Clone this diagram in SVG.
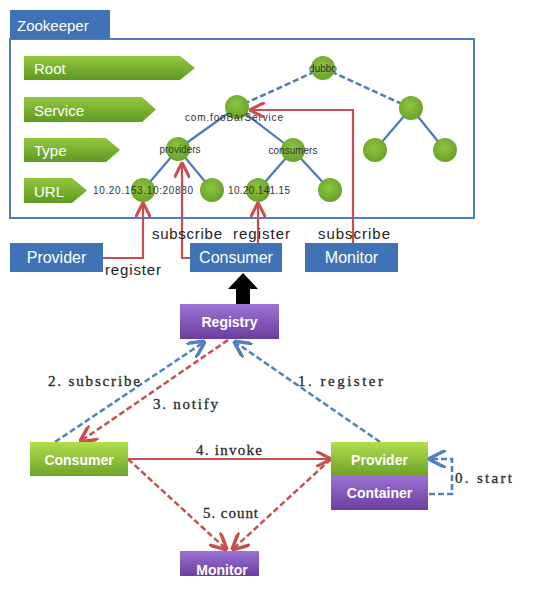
<svg xmlns="http://www.w3.org/2000/svg" width="542" height="598" viewBox="0 0 542 598">
<defs>
<linearGradient id="gLbl" x1="0" y1="0" x2="0" y2="1"><stop offset="0" stop-color="#93c83f"/><stop offset="1" stop-color="#5e9a22"/></linearGradient>
<linearGradient id="gBox" x1="0" y1="0" x2="0" y2="1"><stop offset="0" stop-color="#b2df4e"/><stop offset="1" stop-color="#6ea328"/></linearGradient>
<linearGradient id="pBox" x1="0" y1="0" x2="0" y2="1"><stop offset="0" stop-color="#9d72d6"/><stop offset="1" stop-color="#6a3e9e"/></linearGradient>
<radialGradient id="gNode" cx="0.45" cy="0.4" r="0.6"><stop offset="0" stop-color="#8cc63f"/><stop offset="1" stop-color="#6aa22a"/></radialGradient>
<marker id="aRed" viewBox="0 0 10 10" refX="9" refY="5" markerWidth="7" markerHeight="7" orient="auto-start-reverse"><path d="M0,0 L10,5 L0,10" fill="none" stroke="#c94f4f" stroke-width="2"/></marker>
<marker id="aBlue" viewBox="0 0 10 10" refX="9" refY="5" markerWidth="7" markerHeight="7" orient="auto-start-reverse"><path d="M0,0 L10,5 L0,10" fill="none" stroke="#4f81c0" stroke-width="2"/></marker>
</defs>
<style>
.sans{font-family:"Liberation Sans","DejaVu Sans",sans-serif}
.serif{font-family:"Liberation Serif","DejaVu Serif",serif;font-size:15px;fill:#2a2a2a;stroke:#2a2a2a;stroke-width:0.3}
.lbl{fill:url(#gLbl)}
.lbltxt{font-family:"Liberation Sans",sans-serif;font-size:15px;fill:#fff}
.tnode{fill:url(#gNode)}
.tedge{stroke:#4d79b8;stroke-width:2.2;fill:none}
.tdash{stroke:#4d79b8;stroke-width:2.5;fill:none;stroke-dasharray:6 3}
.small{font-family:"Liberation Sans Narrow","Liberation Sans",sans-serif;font-size:10px;fill:#333}
.blue{fill:#3f73b6}
.wtxt{font-family:"Liberation Sans",sans-serif;font-size:16px;fill:#fff;text-anchor:middle}
.btxt{font-family:"Liberation Sans",sans-serif;font-size:14px;fill:#fff;text-anchor:middle;font-weight:bold}
.red{stroke:#c94f4f;stroke-width:2.2;fill:none}
.reddash{stroke:#c94f4f;stroke-width:2.5;fill:none;stroke-dasharray:6 3}
.bluedash{stroke:#4f81c0;stroke-width:2.5;fill:none;stroke-dasharray:6 3}
.lab{font-family:"Liberation Sans",sans-serif;font-size:15px;fill:#222}
</style>
<rect width="542" height="598" fill="#fff"/>

<g id="zookeeper">
<rect x="10" y="39" width="464" height="179" fill="none" stroke="#4f7fc0" stroke-width="2"/>
<rect x="10" y="10" width="100" height="29" class="blue"/>
<text x="17" y="31" class="sans" font-size="15" fill="#fff">Zookeeper</text>
</g>

<g id="levels">
<polygon class="lbl" points="24,56 180,56 195,68 180,80 24,80"/>
<text x="34" y="74" class="lbltxt">Root</text>
<polygon class="lbl" points="24,97 142,97 156,109.5 142,122 24,122"/>
<text x="34" y="116" class="lbltxt">Service</text>
<polygon class="lbl" points="24,138 106,138 120,150 106,162 24,162"/>
<text x="34" y="156" class="lbltxt">Type</text>
<polygon class="lbl" points="24,178 72,178 87,190.5 72,203 24,203"/>
<text x="34" y="197" class="lbltxt">URL</text>
</g>

<g id="tree-edges">
<line class="tdash" x1="323" y1="68" x2="237" y2="107"/>
<line class="tdash" x1="323" y1="68" x2="411" y2="108"/>
<line class="tedge" x1="237" y1="107" x2="178" y2="149"/>
<line class="tedge" x1="237" y1="107" x2="293" y2="150"/>
<line class="tedge" x1="178" y1="149" x2="143" y2="190"/>
<line class="tedge" x1="178" y1="149" x2="212" y2="190"/>
<line class="tedge" x1="293" y1="150" x2="258" y2="190"/>
<line class="tedge" x1="293" y1="150" x2="330" y2="190"/>
<line class="tedge" x1="411" y1="108" x2="375" y2="150"/>
<line class="tedge" x1="411" y1="108" x2="445" y2="150"/>
</g>

<g id="tree-nodes">
<circle class="tnode" cx="323" cy="68" r="12"/>
<circle class="tnode" cx="237" cy="107" r="12"/>
<circle class="tnode" cx="411" cy="108" r="12"/>
<circle class="tnode" cx="178" cy="149" r="12"/>
<circle class="tnode" cx="293" cy="150" r="12"/>
<circle class="tnode" cx="375" cy="150" r="12"/>
<circle class="tnode" cx="445" cy="150" r="12"/>
<circle class="tnode" cx="143" cy="190" r="12"/>
<circle class="tnode" cx="212" cy="190" r="12"/>
<circle class="tnode" cx="258" cy="190" r="12"/>
<circle class="tnode" cx="330" cy="190" r="12"/>
<text x="323" y="72" class="small" text-anchor="middle">dubbo</text>
<text x="185" y="121" class="small" font-size="11" textLength="98">com.fooBarService</text>
<text x="180" y="153" class="small" text-anchor="middle">providers</text>
<text x="293" y="154" class="small" text-anchor="middle">consumers</text>
<text x="93" y="194" class="small" font-size="11" textLength="100">10.20.153.10:20880</text>
<text x="228" y="194" class="small" font-size="11" textLength="62">10.20.141.15</text>
</g>

<g id="connectors">
<polyline class="red" points="103,258 143,258 143,204" marker-end="url(#aRed)"/>
<polyline class="red" points="190,258 182,258 182,164" marker-end="url(#aRed)"/>
<polyline class="red" points="258,243 258,204" marker-end="url(#aRed)"/>
<polyline class="red" points="353,243 353,110 251,110" marker-end="url(#aRed)"/>
<text x="152" y="239" class="lab" textLength="70">subscribe</text>
<text x="233" y="239" class="lab" textLength="57">register</text>
<text x="318" y="239" class="lab" textLength="72">subscribe</text>
<text x="105" y="275" class="lab" textLength="56">register</text>
<polygon points="243,273 258,289 250,289 250,306 236,306 236,289 228,289" fill="#000"/>
<line class="bluedash" x1="380" y1="442" x2="235" y2="342" marker-end="url(#aBlue)"/>
<line class="bluedash" x1="55" y1="442" x2="204" y2="342" marker-end="url(#aBlue)"/>
<line class="reddash" x1="228" y1="340" x2="81" y2="441" marker-end="url(#aRed)"/>
<line class="red" x1="128" y1="459" x2="330" y2="459" marker-end="url(#aRed)"/>
<line class="reddash" x1="128" y1="459" x2="226" y2="549" marker-end="url(#aRed)"/>
<line class="reddash" x1="331" y1="459" x2="233" y2="549" marker-end="url(#aRed)"/>
<polyline class="bluedash" points="429,494 452,494 452,459 430,459" marker-end="url(#aBlue)"/>
<text x="48" y="386" class="serif" textLength="92">2. subscribe</text>
<text x="153" y="409" class="serif" textLength="65">3. notify</text>
<text x="298" y="386" class="serif" textLength="85">1. register</text>
<text x="196" y="455" class="serif" textLength="66">4. invoke</text>
<text x="203" y="518" class="serif" textLength="55">5. count</text>
<text x="455" y="483" class="serif" textLength="57">0. start</text>
</g>

<g id="provider-top">
<rect x="10" y="243" width="93" height="29" class="blue"/>
<text x="56.5" y="263" class="wtxt">Provider</text>
</g>
<g id="consumer-top">
<rect x="190" y="243" width="92" height="29" class="blue"/>
<text x="236" y="263" class="wtxt">Consumer</text>
</g>
<g id="monitor-top">
<rect x="305" y="243" width="93" height="29" class="blue"/>
<text x="351.5" y="263" class="wtxt">Monitor</text>
</g>

<g id="registry">
<rect x="180" y="304" width="99" height="35" fill="url(#pBox)"/>
<text x="229.5" y="327" class="btxt">Registry</text>
</g>
<g id="consumer">
<rect x="30" y="442" width="98" height="34" fill="url(#gBox)"/>
<text x="79" y="465" class="btxt">Consumer</text>
</g>
<g id="provider">
<rect x="331" y="442" width="97" height="33" fill="url(#gBox)"/>
<text x="379.5" y="465" class="btxt">Provider</text>
</g>
<g id="container">
<rect x="331" y="475" width="97" height="35" fill="url(#pBox)"/>
<text x="379.5" y="498" class="btxt">Container</text>
</g>
<g id="monitor">
<rect x="180" y="551" width="79" height="25" fill="url(#pBox)"/>
<text x="222" y="575" class="btxt">Monitor</text>
</g>
</svg>
